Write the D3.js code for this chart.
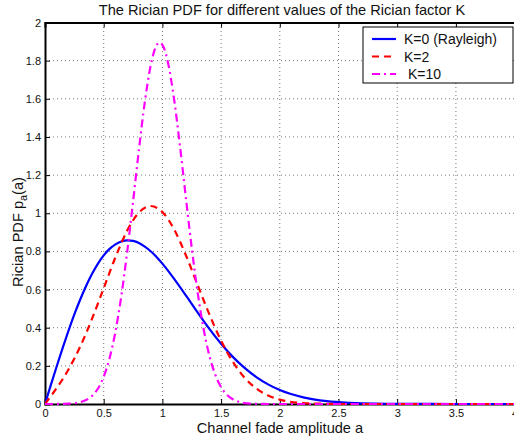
<!DOCTYPE html>
<html>
<head>
<meta charset="utf-8">
<script src="https://cdn.jsdelivr.net/npm/d3@7"></script>
<style>
  body { margin: 0; background: #fff; }
  text { font-family: "Liberation Sans", Arial, sans-serif; fill: #111; }
</style>
</head>
<body>
<svg id="chart" width="514" height="441"></svg>
<script>
// values
var seriesNames = ['K=0 (Rayleigh)', 'K=2', 'K=10'];
var seriesColors = ['#0000ff', '#ff0000', '#ff00ff'];

var aK0 = [0, 0.05, 0.1, 0.15, 0.2, 0.25, 0.3, 0.35, 0.4, 0.45, 0.5, 0.55, 0.6, 0.65, 0.7, 0.75, 0.8, 0.85, 0.9, 0.95, 1.0,
	1.1, 1.2, 1.3, 1.4, 1.5, 1.6, 1.7, 1.8, 1.9, 2.0, 2.2, 2.4, 2.6, 2.8, 3.0, 3.5, 4.0];
var pK0 = [0, 0.100, 0.198, 0.293, 0.384, 0.470, 0.548, 0.619, 0.682, 0.735, 0.779, 0.813, 0.837, 0.852, 0.858, 0.855, 0.844, 0.825, 0.801, 0.771, 0.736,
	0.656, 0.569, 0.480, 0.394, 0.316, 0.247, 0.189, 0.141, 0.103, 0.073, 0.035, 0.015, 0.006, 0.002, 0.001, 0, 0];

var aK2 = [0, 0.05, 0.1, 0.2, 0.3, 0.4, 0.5, 0.6, 0.7, 0.8, 0.9, 1.0, 1.1, 1.2, 1.3, 1.4, 1.5, 1.6, 1.7, 1.8, 1.9, 2.0, 2.2, 2.4, 2.6, 3.0, 3.5, 4.0];
var pK2 = [0, 0.041, 0.084, 0.181, 0.301, 0.446, 0.607, 0.769, 0.909, 1.004, 1.038, 1.006, 0.915, 0.780, 0.624, 0.470, 0.332, 0.221, 0.138, 0.081, 0.045, 0.023, 0.005, 0.001, 0, 0, 0, 0];

var aK10 = [0, 0.1, 0.15, 0.2, 0.25, 0.3, 0.35, 0.4, 0.45, 0.5, 0.55, 0.6, 0.65, 0.7, 0.75, 0.8, 0.85, 0.9, 0.95, 0.975, 1.0,
	1.05, 1.1, 1.15, 1.2, 1.25, 1.3, 1.35, 1.4, 1.45, 1.5, 1.55, 1.6, 1.7, 1.8, 1.9, 2.0, 2.5, 3.0, 3.5, 4.0];
var pK10 = [0, 0.0002, 0.0006, 0.0017, 0.0043, 0.0098, 0.021, 0.042, 0.080, 0.143, 0.240, 0.379, 0.566, 0.798, 1.061, 1.333, 1.582, 1.774, 1.880, 1.895, 1.883,
	1.783, 1.596, 1.351, 1.081, 0.818, 0.586, 0.397, 0.254, 0.154, 0.088, 0.048, 0.025, 0.005, 0.001, 0, 0, 0, 0, 0, 0];

var xTicks = [0, 0.5, 1, 1.5, 2, 2.5, 3, 3.5, 4];
var yTicks = [0, 0.2, 0.4, 0.6, 0.8, 1, 1.2, 1.4, 1.6, 1.8, 2];

var titleText = 'The Rician PDF for different values of the Rician factor K';
var xLabel = 'Channel fade amplitude a';

// layout
var margin = {top: 22.5, right: -0.6, bottom: 37, left: 45},
	W = 514, H = 441,
	width = W - margin.left - margin.right,
	height = H - margin.top - margin.bottom;

var svg = d3.select('#chart');

var x = d3.scaleLinear().domain([0, 4]).range([margin.left, margin.left + width]);
var y = d3.scaleLinear().domain([0, 2]).range([margin.top + height, margin.top]);

var grid = svg.append('g');

// dotted grid
grid.selectAll('line.vx')
	.data(xTicks.slice(1, -1))
	.enter().append('line')
	.attr('x1', function (d) { return x(d); })
	.attr('x2', function (d) { return x(d); })
	.attr('y1', y(0)).attr('y2', y(2))
	.attr('stroke', '#777').attr('stroke-width', 1).attr('stroke-dasharray', '1,3');

grid.selectAll('line.hy')
	.data(yTicks.slice(1, -1))
	.enter().append('line')
	.attr('y1', function (d) { return y(d); })
	.attr('y2', function (d) { return y(d); })
	.attr('x1', x(0)).attr('x2', x(4))
	.attr('stroke', '#777').attr('stroke-width', 1).attr('stroke-dasharray', '1,3');

// axes, ticks pointing inward
var xAxis = d3.axisBottom(x).tickValues(xTicks).tickSize(-5).tickPadding(5)
	.tickFormat(function (d) { return d; });
var yAxis = d3.axisLeft(y).tickValues(yTicks).tickSize(-5).tickPadding(4)
	.tickFormat(function (d) { return d; });

var gx = svg.append('g').attr('transform', 'translate(0,' + y(0) + ')').call(xAxis);
var gy = svg.append('g').attr('transform', 'translate(' + x(0) + ',0)').call(yAxis);
var gxt = svg.append('g').attr('transform', 'translate(0,' + y(2) + ')')
	.call(d3.axisTop(x).tickValues(xTicks).tickSize(-5).tickFormat(''));

[gx, gy, gxt].forEach(function (g) {
	g.select('.domain').attr('stroke', '#000').attr('stroke-width', 2);
	g.selectAll('.tick line').attr('stroke', '#000').attr('stroke-width', 1);
	g.selectAll('.tick text').style('font-family', '"Liberation Sans", Arial, sans-serif')
		.style('font-size', '11px').attr('fill', '#222');
});

// curves
var line = d3.line()
	.x(function (d) { return x(d[0]); })
	.y(function (d) { return y(d[1]); })
	.curve(d3.curveMonotoneX);

var series = [
	{a: aK0, p: pK0, dash: null},
	{a: aK2, p: pK2, dash: '7,5'},
	{a: aK10, p: pK10, dash: '8,4,2,4'}
];

svg.append('defs').append('clipPath').attr('id', 'clip')
	.append('rect').attr('x', x(0)).attr('y', y(2)).attr('width', width).attr('height', height + 2);

series.forEach(function (s, i) {
	svg.append('path')
		.datum(d3.zip(s.a, s.p))
		.attr('clip-path', 'url(#clip)')
		.attr('d', line)
		.attr('fill', 'none')
		.attr('stroke', seriesColors[i])
		.attr('stroke-width', 2.2)
		.attr('stroke-dasharray', s.dash);
});

// legend
var legend = svg.append('g').attr('transform', 'translate(363,27)');
legend.append('rect').attr('width', 150).attr('height', 56)
	.attr('fill', '#fff').attr('stroke', '#000').attr('stroke-width', 1);

seriesNames.forEach(function (name, i) {
	var yy = 12 + i * 17.5;
	legend.append('line')
		.attr('x1', 9).attr('x2', 33).attr('y1', yy).attr('y2', yy)
		.attr('stroke', seriesColors[i]).attr('stroke-width', 2.2)
		.attr('stroke-dasharray', series[i].dash);
	legend.append('text')
		.attr('x', i === 2 ? 45 : 41).attr('y', yy + 5)
		.style('font-size', '14px')
		.text(name);
});

// titles
svg.append('text')
	.attr('x', 282).attr('y', 15)
	.attr('text-anchor', 'middle')
	.style('font-size', '14.6px')
	.text(titleText);

svg.append('text')
	.attr('x', 280).attr('y', 433)
	.attr('text-anchor', 'middle')
	.style('font-size', '14.6px')
	.text(xLabel);

var yl = svg.append('text')
	.attr('transform', 'translate(23,232) rotate(-90)')
	.attr('text-anchor', 'middle')
	.style('font-size', '14.6px');
yl.append('tspan').text('Rician PDF p');
yl.append('tspan').attr('dy', 4).style('font-size', '11px').text('a');
yl.append('tspan').attr('dy', -4).text('(a)');
</script>
</body>
</html>
